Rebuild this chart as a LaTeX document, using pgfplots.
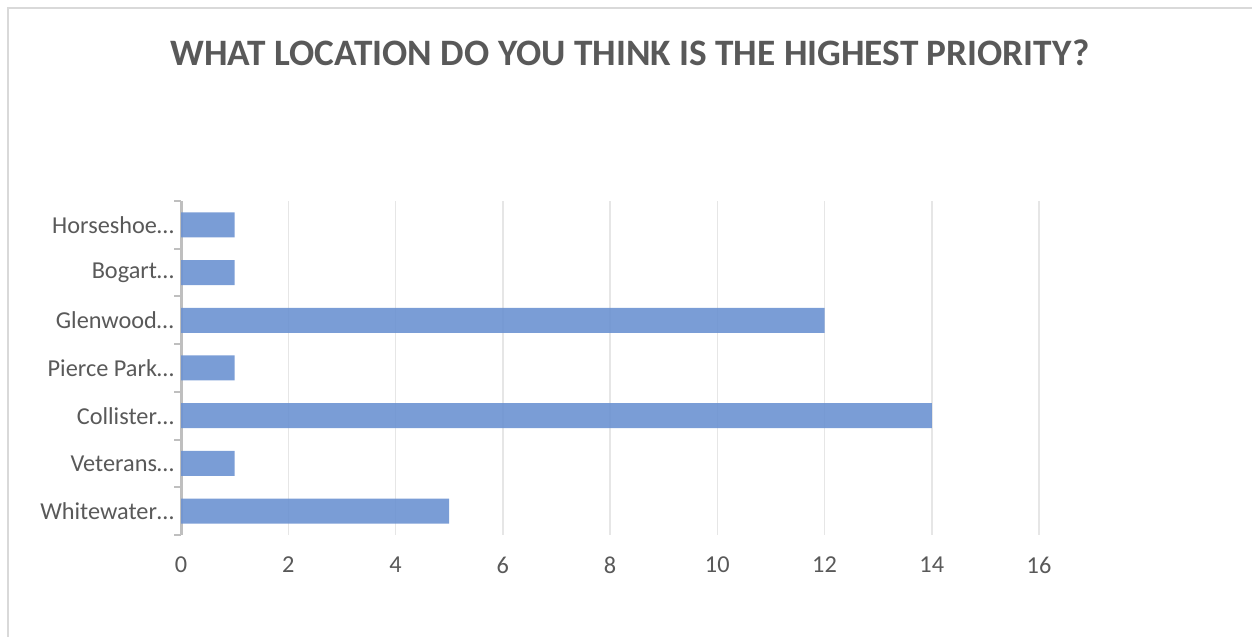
\documentclass[border=0pt]{standalone}
\usepackage{pgfplots}
\pgfplotsset{compat=1.18}
\usepackage{fontspec}
\setmainfont{Carlito}
\definecolor{txt}{HTML}{595959}
\definecolor{barc}{HTML}{6C92D1}
\definecolor{gridc}{HTML}{E6E6E6}
\definecolor{axc}{HTML}{BFBFBF}
\definecolor{frame}{HTML}{D9D9D9}
\begin{document}
\begin{tikzpicture}[x=1bp,y=1bp]
\path[use as bounding box] (0,0) rectangle (1252,637);
\draw[frame, line width=1.5bp] (8,0) -- (8,629) -- (1252,629);
\node[text=txt, font=\fontsize{37.3bp}{40bp}\selectfont\bfseries] at (630,584) {WHAT LOCATION DO YOU THINK IS THE HIGHEST PRIORITY?};
\begin{axis}[
  at={(181bp,102bp)}, anchor=south west,
  scale only axis, width=858bp, height=334bp,
  xbar, bar width=25bp,
  xmin=0, xmax=16, ymin=-0.5, ymax=6.5,
  xtick={0,2,...,16},
  ytick={0,...,6},
  yticklabels={Whitewater…,Veterans…,Collister…,Pierce Park…,Glenwood…,Bogart…,Horseshoe…},
  minor ytick={-0.5,0.5,...,6.5},
  axis lines*=left,
  x axis line style={draw=none},
  y axis line style={draw=axc, line width=3bp},
  tick align=outside,
  major tick length=0pt,
  minor tick length=7bp,
  minor tick style={draw=axc, line width=2bp},
  xmajorgrids, major grid style={draw=gridc, line width=1.5bp},
  ticklabel style={text=txt, font=\fontsize{24.3bp}{26bp}\selectfont},
  /pgf/number format/assume math mode=true,
  yticklabel style={inner sep=0pt, xshift=-7bp},
  xticklabel style={inner sep=0pt, yshift=-22bp},
]
\addplot[fill=barc, fill opacity=0.9, draw=none] coordinates {(5,0) (1,1) (14,2) (1,3) (12,4) (1,5) (1,6)};
\end{axis}
\end{tikzpicture}
\end{document}
